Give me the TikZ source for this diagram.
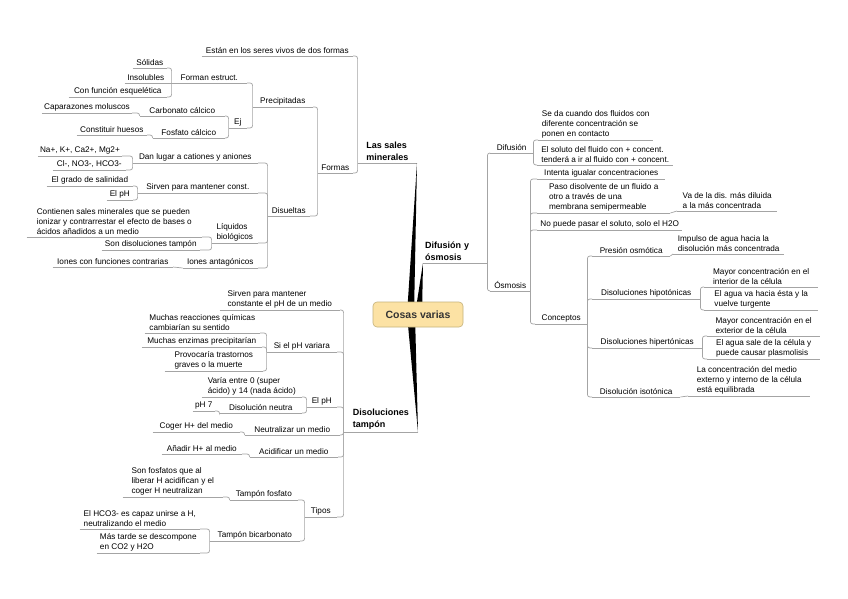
\documentclass[tikz,border=0pt]{standalone}
\usepackage{fontspec}
\setmainfont{Liberation Sans}
\usetikzlibrary{calc,backgrounds}
\definecolor{lnc}{HTML}{A4A4A4}
\definecolor{boxfill}{HTML}{FCE2A4}
\definecolor{boxdraw}{HTML}{C4B27C}
\newcommand\smf{\fontsize{8.2}{10}\selectfont}
\newcommand\bgf{\bfseries\fontsize{9}{12}\selectfont}
\tikzset{
  cn/.style={draw=lnc, line width=0.7pt, rounded corners=2.5pt},
  ul/.style={draw=lnc, line width=0.7pt},
  tl/.style={anchor=south east, font=\smf, inner xsep=2pt, inner ysep=2pt, align=left},
  tr/.style={anchor=south west, font=\smf, inner xsep=2pt, inner ysep=2pt, align=left},
  mt/.style={font=\bgf, inner xsep=2pt, inner ysep=2pt, align=left},
}
\begin{document}
\begin{tikzpicture}[x=1pt,y=-1pt]
\useasboundingbox (0,0) rectangle (848,599);
% root
\node[draw=boxdraw, fill=boxfill, rounded corners=4pt, minimum width=90, minimum height=25,
      font=\bfseries\fontsize{10.5}{12}\selectfont, text=black!80, line width=0.6pt] (root) at (418,314.5) {Cosas varias};
% main topics
\node[mt, anchor=south east, minimum width=59] (lsm) at (417,163) {Las sales\\minerales};
\node[mt, anchor=south west, text width=60] (dyo) at (423,263) {Difusión y\\ósmosis};
\node[mt, anchor=south east, minimum width=74] (dt) at (418,432) {Disoluciones\\tampón};
% ---- Las sales minerales
\node[tl, minimum width=151] (estan) at (353,56) {Están en los seres vivos de dos formas};
\node[tl, minimum width=35] (formas) at (353,173) {Formas};
\node[tl, minimum width=60] (precip) at (313,107) {Precipitadas};
\node[tl, minimum width=42] (disuel) at (310,216) {Disueltas};
\node[tl, minimum width=75] (forman) at (247,83) {Forman estruct.};
\node[tl, minimum width=18] (ej) at (247,128) {Ej};
\node[tl, minimum width=34] (solid) at (167,68) {Sólidas};
\node[tl, minimum width=42] (insol) at (167,83) {Insolubles};
\node[tl, minimum width=98] (confun) at (167,97) {Con función esquelética};
\node[tl, minimum width=85] (carb) at (225,116) {Carbonato cálcico};
\node[tl, minimum width=72] (fosf) at (225,138) {Fosfato cálcico};
\node[tl, minimum width=87] (capar) at (132,113) {Caparazones moluscos};
\node[tl, minimum width=70] (constit) at (147,135) {Constituir huesos};
\node[tl, minimum width=125] (danl) at (258,163) {Dan lugar a cationes y aniones};
\node[tl, minimum width=120] (sirv) at (258,193) {Sirven para mantener const.};
\node[tl, minimum width=46] (liq) at (258,243) {Líquidos\\biológicos};
\node[tl, minimum width=75] (ionant) at (258,268) {Iones antagónicos};
\node[tl, minimum width=80] (cation) at (122,156) {Na+, K+, Ca2+, Mg2+};
\node[tl, minimum width=73] (anion) at (126,170) {Cl-, NO3-, HCO3-};
\node[tl, minimum width=86] (grado) at (133,186) {El grado de salinidad};
\node[tl, minimum width=26] (phA) at (133,200) {El pH};
\node[tl, minimum width=175] (contien) at (202,237) {Contienen sales minerales que se pueden\\ionizar y contrarrestar el efecto de bases o\\ácidos añadidos a un medio};
\node[tl, minimum width=98] (sondis) at (200,250) {Son disoluciones tampón};
\node[tl, minimum width=120] (ioncon) at (173,267) {Iones con funciones contrarias};
% ---- Disoluciones tampón
\node[tl, minimum width=120] (sirvph) at (340,310) {Sirven para mantener\\constante el pH de un medio};
\node[tl, minimum width=70] (sivar) at (337,352) {Si el pH variara};
\node[tl, minimum width=30] (phB) at (337,407) {El pH};
\node[tl, minimum width=95] (neutr) at (340,435) {Neutralizar un medio};
\node[tl, minimum width=88] (acidif) at (338,457) {Acidificar un medio};
\node[tl, minimum width=32] (tipos) at (337,517) {Tipos};
\node[tl, minimum width=115] (reac) at (260,333) {Muchas reacciones químicas\\cambiarían su sentido};
\node[tl, minimum width=120] (enzim) at (262,347) {Muchas enzimas precipitarían};
\node[tl, minimum width=98] (provoc) at (263,371) {Provocaría trastornos\\graves o la muerte};
\node[tl, minimum width=100] (varia) at (302,397) {Varía entre 0 (super\\ácido) y 14 (nada ácido)};
\node[tl, minimum width=82] (disneu) at (302,413) {Disolución neutra};
\node[tl, minimum width=22] (ph7) at (215,411) {pH 7};
\node[tl, minimum width=87] (coger) at (240,432) {Coger H+ del medio};
\node[tl, minimum width=80] (anad) at (242,454) {Añadir H+ al medio};
\node[tl, minimum width=68] (tfos) at (298,500) {Tampón fosfato};
\node[tl, minimum width=90] (tbic) at (300,541) {Tampón bicarbonato};
\node[tl, minimum width=100] (sonfos) at (223,497) {Son fosfatos que al\\liberar H acidifican y el\\coger H neutralizan};
\node[tl, minimum width=120] (elhco) at (200,529) {El HCO3- es capaz unirse a H,\\neutralizando el medio};
\node[tl, minimum width=103] (mast) at (200,553) {Más tarde se descompone\\en CO2 y H2O};
% ---- Difusión y ósmosis
\node[tr, minimum width=43] (difus) at (490,153) {Difusión};
\node[tr, minimum width=40] (osmos) at (490,291) {Ósmosis};
\node[tr, minimum width=115] (seda) at (538,140) {Se da cuando dos fluidos con\\diferente concentración se\\ponen en contacto};
\node[tr, minimum width=136] (soluto) at (537,165) {El soluto del fluido con + concent.\\tenderá a ir al fluido con + concent.};
\node[tr, minimum width=128] (intenta) at (537,179) {Intenta igualar concentraciones};
\node[tr, minimum width=133] (paso) at (537,213) {Paso disolvente de un fluido a\\otro a través de una\\membrana semipermeable};
\node[tr, minimum width=145] (nopuede) at (537,230) {No puede pasar el soluto, solo el H2O};
\node[tr, minimum width=52] (concep) at (535,324) {Conceptos};
\node[tr, minimum width=100] (vade) at (677,211) {Va de la dis. más diluida\\a la más concentrada};
\node[tr, minimum width=78] (presion) at (592,256) {Presión osmótica};
\node[tr, minimum width=108] (hipo) at (592,299) {Disoluciones hipotónicas};
\node[tr, minimum width=110] (hiper) at (592,348) {Disoluciones hipertónicas};
\node[tr, minimum width=88] (iso) at (592,397) {Disolución isotónica};
\node[tr, minimum width=111] (impulso) at (673,254) {Impulso de agua hacia la\\disolución más concentrada};
\node[tr, minimum width=114] (mayint) at (704,287) {Mayor concentración en el\\interior de la célula};
\node[tr, minimum width=114] (aguava) at (704,310) {El agua va hacia ésta y la\\vuelve turgente};
\node[tr, minimum width=113] (mayext) at (707,336) {Mayor concentración en el\\exterior de la célula};
\node[tr, minimum width=113] (aguasal) at (707,359) {El agua sale de la célula y\\puede causar plasmolisis};
\node[tr, minimum width=122] (lacon) at (688,396) {La concentración del medio\\externo y interno de la célula\\está equilibrada};

\begin{scope}[on background layer]
\fill[white] (0,0) rectangle (848,599);
% underlines
\foreach \n in {lsm,dyo,dt,estan,formas,precip,disuel,forman,ej,solid,insol,confun,carb,fosf,capar,constit,
  danl,sirv,liq,ionant,cation,anion,grado,phA,contien,sondis,ioncon,
  sirvph,sivar,phB,neutr,acidif,tipos,reac,enzim,provoc,varia,disneu,ph7,coger,anad,tfos,tbic,sonfos,elhco,mast,
  difus,osmos,seda,soluto,intenta,paso,nopuede,concep,vade,presion,hipo,hiper,iso,impulso,mayint,aguava,mayext,aguasal,lacon}
  \draw[ul] (\n.south west) -- (\n.south east);
% wedges
\fill[black] ($(root.center)+(-11,0)$) -- (lsm.south east) -- ($(root.center)+(-4,0)$) -- cycle;
\fill[black] ($(root.center)+(-3,0)$) -- (dyo.south west) -- ($(root.center)+(4,0)$) -- cycle;
\fill[black] ($(root.center)+(-11,0)$) -- (dt.south east) -- ($(root.center)+(-3,0)$) -- cycle;
% left connectors
\foreach \c/\p in {estan/lsm,formas/lsm,precip/formas,disuel/formas,forman/precip,ej/precip,
  solid/forman,confun/forman,carb/ej,fosf/ej,capar/carb,constit/fosf,
  danl/disuel,sirv/disuel,liq/disuel,ionant/disuel,cation/danl,anion/danl,grado/sirv,phA/sirv,
  contien/liq,sondis/liq,
  sirvph/dt,sivar/dt,phB/dt,neutr/dt,acidif/dt,tipos/dt,reac/sivar,enzim/sivar,provoc/sivar,
  varia/phB,disneu/phB,ph7/disneu,coger/neutr,anad/acidif,tfos/tipos,tbic/tipos,sonfos/tfos,elhco/tbic,mast/tbic}
  \draw[cn] (\c.south east) -| (\p.south west);
\draw[ul] (insol.south east) -- (forman.south west);
\draw[ul] (ioncon.south east) -- (ionant.south west);
% right connectors
\foreach \c/\p in {difus/dyo,osmos/dyo,seda/difus,soluto/difus,intenta/osmos,paso/osmos,nopuede/osmos,concep/osmos,
  presion/concep,hipo/concep,hiper/concep,iso/concep,mayint/hipo,aguava/hipo,mayext/hiper,aguasal/hiper}
  \draw[cn] (\c.south west) -| (\p.south east);
\draw[ul] (vade.south west) -- (paso.south east);
\draw[ul] (impulso.south west) -- (presion.south east);
\draw[ul] (lacon.south west) -- (iso.south east);
\end{scope}
\end{tikzpicture}
\end{document}
